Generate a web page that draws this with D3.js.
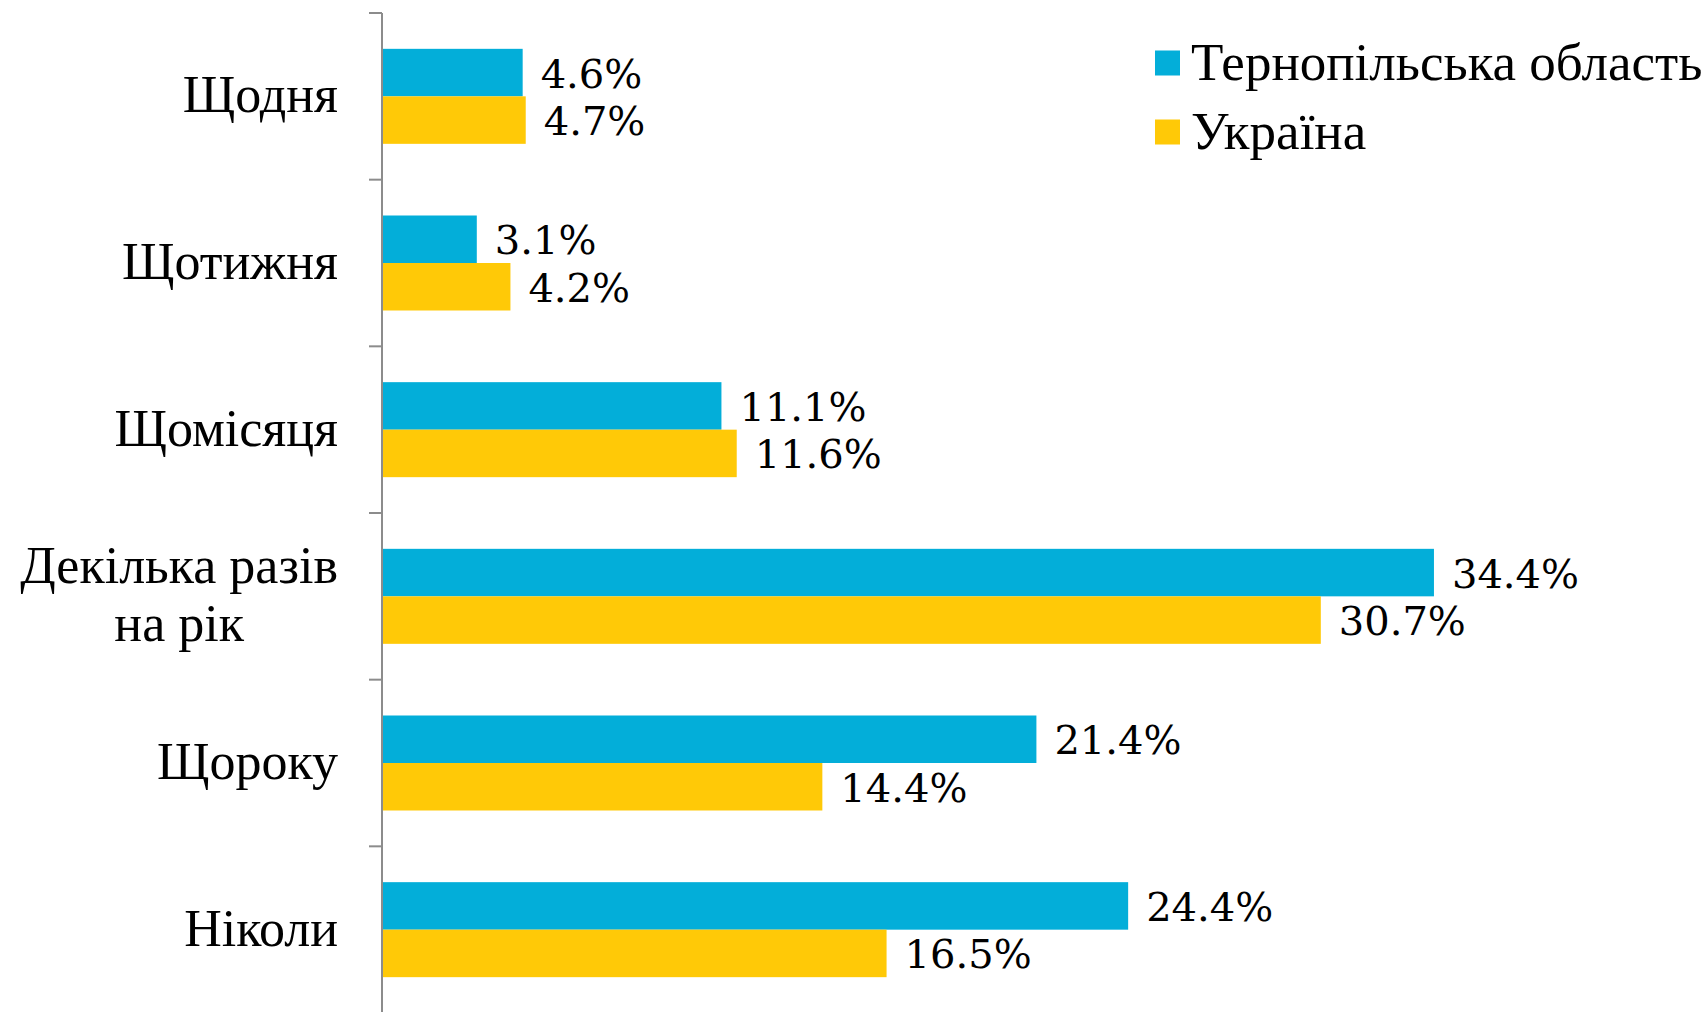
<!DOCTYPE html>
<html>
<head>
<meta charset="utf-8">
<script src="https://cdn.jsdelivr.net/npm/d3@7"></script>
<style>
  body { margin: 0; background: #fff; }
  svg { display: block; }
</style>
</head>
<body>
<svg id="chart" width="1706" height="1012"></svg>
<script>
// data
const categories = ["Щодня", "Щотижня", "Щомісяця", "Декілька разів\nна рік", "Щороку", "Ніколи"];
const seriesNames = ["Тернопільська область", "Україна"];
const ternopil = [4.6, 3.1, 11.1, 34.4, 21.4, 24.4];
const ukraine = [4.7, 4.2, 11.6, 30.7, 14.4, 16.5];
const colors = ["#03AED9", "#FFC907"];

const rows = categories.map((c, i) => ({ cat: c, values: [ternopil[i], ukraine[i]] }));

const svg = d3.select("#chart");
const axisX = 382;
const plotTop = 13, plotBottom = 1013;

const y = d3.scaleBand()
  .domain(categories)
  .range([plotTop, plotBottom])
  .paddingInner(0.43)
  .paddingOuter(0.215);

const ySub = d3.scaleBand()
  .domain(seriesNames)
  .range([0, y.bandwidth()]);

const x = d3.scaleLinear()
  .domain([0, 40])
  .range([axisX, axisX + 40 * 30.58]);

const font = "'Liberation Serif', 'Times New Roman', serif";
const numFont = "'DejaVu Serif', Georgia, serif";

// bars
const groups = svg.append("g").selectAll("g")
  .data(rows)
  .enter()
  .append("g")
  .attr("transform", d => `translate(0,${y(d.cat)})`);

groups.selectAll("rect")
  .data(d => d.values.map((v, i) => ({ name: seriesNames[i], v, i })))
  .enter()
  .append("rect")
  .attr("x", x(0))
  .attr("y", d => ySub(d.name))
  .attr("width", d => x(d.v) - x(0))
  .attr("height", ySub.bandwidth())
  .attr("fill", d => colors[d.i]);

// value labels
groups.selectAll("text")
  .data(d => d.values.map((v, i) => ({ name: seriesNames[i], v, i })))
  .enter()
  .append("text")
  .attr("x", d => x(d.v) + 18)
  .attr("y", d => ySub(d.name) + ySub.bandwidth() / 2 + 15)
  .attr("font-family", numFont)
  .attr("font-size", 40)
  .attr("fill", "#000")
  .text(d => d.v.toFixed(1) + "%");

// axis line and ticks
const step = y.step();
const tickYs = categories.map(c => y(c) - (step - y.bandwidth()) / 2).concat([plotBottom]);
svg.append("line")
  .attr("x1", axisX).attr("x2", axisX)
  .attr("y1", plotTop).attr("y2", 1012)
  .attr("stroke", "#8c8c8c")
  .attr("stroke-width", 2);
svg.selectAll(".tick")
  .data(tickYs)
  .enter()
  .append("line")
  .attr("class", "tick")
  .attr("x1", axisX - 13).attr("x2", axisX)
  .attr("y1", d => d).attr("y2", d => d)
  .attr("stroke", "#8c8c8c")
  .attr("stroke-width", 2);

// category labels (wrapped ones centred as a block, right edge near axis)
const labelRight = 338;
const lineH = 58;
categories.forEach(c => {
  const lines = c.split("\n");
  const cy = y(c) + y.bandwidth() / 2;
  const t = svg.append("text")
    .attr("font-family", font)
    .attr("font-size", 52)
    .attr("fill", "#000");
  const spans = lines.map((ln, j) => t.append("tspan")
    .attr("y", cy + 16 + (j - (lines.length - 1) / 2) * lineH)
    .text(ln));
  const widths = spans.map(s => s.node().getComputedTextLength());
  const maxW = d3.max(widths);
  spans.forEach((s, j) => s.attr("x", labelRight - maxW / 2 - widths[j] / 2));
});

// legend
const legend = svg.append("g");
seriesNames.forEach((n, i) => {
  const ly = 63 + i * 69;
  legend.append("rect")
    .attr("x", 1155).attr("y", ly - 12.5)
    .attr("width", 25).attr("height", 25)
    .attr("fill", colors[i]);
  legend.append("text")
    .attr("x", 1191).attr("y", ly + 17)
    .attr("font-family", font)
    .attr("font-size", 53)
    .attr("fill", "#000")
    .text(n);
});
</script>
</body>
</html>
